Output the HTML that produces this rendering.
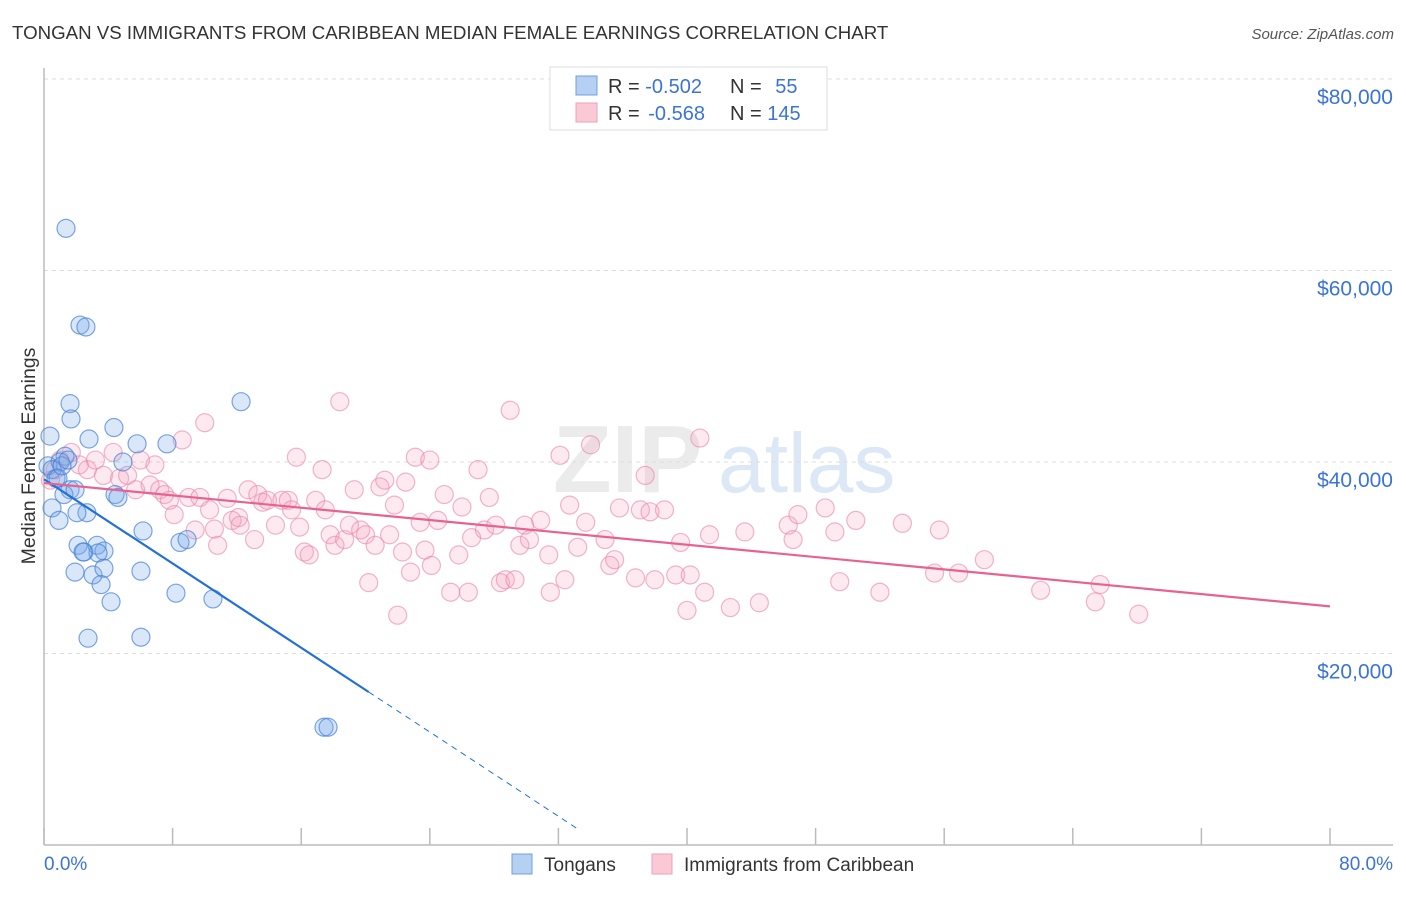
<!DOCTYPE html>
<html><head><meta charset="utf-8"><style>
body{margin:0;background:#fff;font-family:"Liberation Sans",sans-serif;}
svg text{font-family:"Liberation Sans",sans-serif;}
</style></head><body>
<svg id="chart" width="1406" height="892" viewBox="0 0 1406 892" xmlns="http://www.w3.org/2000/svg">
<text x="12" y="39" font-size="18.7" fill="#333">TONGAN VS IMMIGRANTS FROM CARIBBEAN MEDIAN FEMALE EARNINGS CORRELATION CHART</text>
<text x="1394" y="39" font-size="15" fill="#555" font-style="italic" text-anchor="end">Source: ZipAtlas.com</text>
<g opacity="0.5">
<text x="553" y="492" font-size="96" fill="#d8d8d8" font-family="Liberation Serif" font-weight="bold">ZIP</text>
<text x="718" y="492" font-size="84" fill="#bcd3ee">atlas</text>
</g>
<g id="grid"></g>
<line x1="44" y1="68" x2="44" y2="845" stroke="#bbb" stroke-width="1.5"/>
<line x1="44" y1="845" x2="1393" y2="845" stroke="#bbb" stroke-width="1.5"/>
<g id="xticks"></g>
<g id="ylabels"></g>
<text transform="translate(35,456) rotate(-90)" font-size="19.5" fill="#333" text-anchor="middle">Median Female Earnings</text>
<text x="44" y="870" font-size="19" fill="#3b74d6">0.0%</text>
<text x="1393" y="870" font-size="19" fill="#3b74d6" text-anchor="end">80.0%</text>
<g id="pinkpts"></g>
<g id="bluepts"></g>
<g id="trends"></g>
<g>
<rect x="550" y="67" width="277" height="63" fill="#fff" stroke="#ddd"/>
<rect x="576" y="76" width="21" height="19" fill="#b5d0f3" stroke="#6fa0e0"/>
<rect x="576" y="103" width="21" height="19" fill="#fbc8d6" stroke="#f0a0b8"/>
<text x="608" y="93" font-size="20" fill="#333">R = <tspan fill="#3b74d6">-0.502</tspan></text>
<text x="730" y="93" font-size="20" fill="#333">N = <tspan fill="#3b74d6" dx="8">55</tspan></text>
<text x="608" y="120" font-size="20" fill="#333">R = <tspan fill="#3b74d6" dx="3">-0.568</tspan></text>
<text x="730" y="120" font-size="20" fill="#333">N = <tspan fill="#3b74d6">145</tspan></text>
</g>
<g>
<rect x="512" y="854" width="20" height="20" fill="#b5d0f3" stroke="#6fa0e0"/>
<text x="544" y="871" font-size="19" fill="#333">Tongans</text>
<rect x="652" y="854" width="20" height="20" fill="#fbc8d6" stroke="#f0a0b8"/>
<text x="684" y="871" font-size="19" fill="#333">Immigrants from Caribbean</text>
</g>
</svg>
<script>
const yTicks=[20000,40000,60000,80000];
const yTickLabels=["$20,000","$40,000","$60,000","$80,000"];
const xTicks=[0,8,16,24,32,40,48,56,64,72,80];
const blueX=[1.37,2.24,2.61,1.62,1.68,12.26,4.35,2.8,0.37,5.79,7.65,4.91,1.31,1.0,0.25,0.5,0.75,1.62,1.24,1.93,4.42,4.6,0.5,0.93,2.67,2.05,6.16,2.12,2.49,3.3,3.73,3.36,2.43,8.46,8.9,1.93,3.05,3.73,3.55,6.03,4.17,8.21,10.51,2.74,6.03,17.42,17.67,0.87,1.12,1.49];
const blueY=[64.4,54.3,54.1,46.1,44.5,46.3,43.6,42.4,42.7,41.9,41.9,40.0,40.6,40.0,39.6,39.2,38.3,37.1,36.6,37.1,36.6,36.3,35.2,33.9,34.7,34.7,32.8,31.3,30.6,31.3,30.7,30.5,30.6,31.6,31.9,28.5,28.2,28.9,27.2,28.6,25.4,26.3,25.7,21.6,21.7,12.3,12.3,38.3,39.6,40.2];
const pinkX=[0.4,0.7,1.0,1.7,2.2,2.7,3.2,3.7,4.3,4.7,5.2,5.7,6.0,6.6,6.9,7.2,7.5,7.8,8.1,8.6,9.0,9.4,9.7,10.0,10.3,10.8,11.4,11.7,12.1,12.2,12.7,13.1,13.3,13.6,13.9,14.4,14.8,15.2,15.4,15.7,15.9,16.2,16.5,16.9,17.3,17.5,17.8,18.1,18.4,18.7,19.0,19.3,19.7,20.0,20.2,20.6,20.9,21.2,21.5,21.8,22.0,22.3,22.5,22.8,23.1,23.4,23.7,24.0,24.1,24.5,24.9,25.3,25.8,26.0,26.4,26.6,27.0,27.4,27.7,28.1,28.4,28.7,29.0,29.3,29.6,29.9,30.2,30.9,31.4,31.5,32.1,32.4,32.7,33.2,33.7,34.0,34.9,35.2,35.5,35.8,36.8,37.1,37.4,37.7,38.0,38.6,39.3,39.6,40.0,40.2,40.8,41.1,41.4,42.7,43.6,44.5,46.3,46.6,46.9,48.6,49.2,49.5,50.5,52.0,53.4,55.4,55.7,56.9,58.5,62.0,65.4,65.7,68.1,10.6];
const pinkY=[38.1,39.2,40.2,41.0,39.7,39.2,40.2,38.6,41.0,38.3,38.6,37.1,40.2,37.6,39.7,37.1,36.6,36.0,34.5,42.3,36.3,32.9,36.3,44.1,35.0,31.3,36.2,33.9,34.2,33.4,37.1,31.9,36.6,35.8,36.0,33.4,36.0,36.0,35.0,40.5,33.2,30.6,30.3,36.0,39.2,35.0,32.4,31.3,46.3,31.9,33.4,37.1,32.9,32.4,27.4,31.3,37.4,38.1,32.4,35.5,24.0,30.6,37.9,28.5,40.5,33.7,30.8,40.2,29.2,33.9,36.6,26.4,30.3,35.3,26.4,32.1,39.2,32.9,36.3,33.4,27.4,27.7,45.4,27.7,31.3,33.4,31.9,33.9,30.3,26.4,40.7,27.7,35.5,31.1,33.7,41.8,31.9,29.2,29.8,35.2,27.9,35.0,38.6,34.8,27.7,35.0,28.2,31.6,24.5,28.2,42.5,26.4,32.4,24.8,32.7,25.3,33.4,31.9,34.5,35.2,32.7,27.5,33.9,26.4,33.6,28.4,32.9,28.4,29.8,26.6,25.4,27.2,24.1,33.0];
const blueTrend=[38.2,-1.10]; // intercept (k$), slope per %
const blueSolidEnd=20.2;
const blueDashEnd=33.3;
const pinkTrend=[37.8,-0.161];
const X=v=>44+v*(1330-44)/80;
const Y=v=>845-v*(845-79)/80000;
const NS="http://www.w3.org/2000/svg";
function mk(tag,attrs,parent){const e=document.createElementNS(NS,tag);for(const k in attrs)e.setAttribute(k,attrs[k]);parent.appendChild(e);return e;}
const grid=document.getElementById('grid'),yl=document.getElementById('ylabels'),xt=document.getElementById('xticks');
yTicks.forEach((t,i)=>{
 const l=mk('line',{x1:44,x2:1393,y1:Y(t),y2:Y(t),stroke:'#ddd','stroke-dasharray':'4,4'},grid);
 
 
 const tx=mk('text',{x:1393,y:Y(t)+25,'font-size':21,fill:'#3b74d6','text-anchor':'end'},yl);
 tx.textContent=yTickLabels[i];
 
 
});
xTicks.forEach(t=>{
 const l=mk('line',{x1:X(t),x2:X(t),y1:828,y2:845,stroke:'#bbb','stroke-width':1.5},xt);
 
 
});
const pp=document.getElementById('pinkpts');
pinkX.forEach((x,i)=>{
 const c=mk('circle',{cx:X(x),cy:Y(pinkY[i]*1000),r:9,fill:'rgba(244,160,188,0.22)',stroke:'rgba(236,130,165,0.6)','stroke-width':1.2},pp);
 
 
});
const bp=document.getElementById('bluepts');
blueX.forEach((x,i)=>{
 const c=mk('circle',{cx:X(x),cy:Y(blueY[i]*1000),r:9,fill:'rgba(120,170,235,0.28)',stroke:'rgba(70,130,215,0.7)','stroke-width':1.2},bp);
 
 
});
const tr=document.getElementById('trends');
const bY=x=>(blueTrend[0]+blueTrend[1]*x)*1000;
const l1=mk('line',{x1:X(0),y1:Y(bY(0)),x2:X(blueSolidEnd),y2:Y(bY(blueSolidEnd)),stroke:'#2370d8','stroke-width':2.2},tr);


const l2=mk('line',{x1:X(blueSolidEnd),y1:Y(bY(blueSolidEnd)),x2:X(blueDashEnd),y2:Y(bY(blueDashEnd)),stroke:'#2370d8','stroke-width':1,'stroke-dasharray':'6,5'},tr);


const pY=x=>(pinkTrend[0]+pinkTrend[1]*x)*1000;
const l3=mk('line',{x1:X(0),y1:Y(pY(0)),x2:X(80),y2:Y(pY(80)),stroke:'#e8628f','stroke-width':2.2},tr);


</script>
</body></html>
